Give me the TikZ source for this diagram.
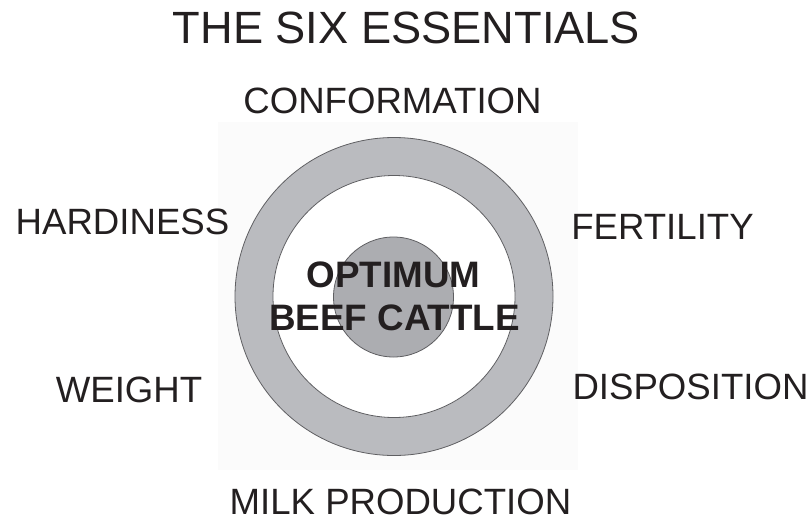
\documentclass[tikz,border=0pt]{standalone}
\usepackage{fontspec}
\setmainfont{Liberation Sans}
\definecolor{ringgray}{RGB}{186,187,191}
\definecolor{diskgray}{RGB}{172,173,177}
\definecolor{edgegray}{RGB}{95,95,98}
\definecolor{bgfaint}{RGB}{251,251,251}
\definecolor{txt}{RGB}{35,31,32}
\tikzset{
  lbl/.style={anchor=base, inner sep=0pt, text=txt, font=\fontsize{36.6}{40}\selectfont},
  ttl/.style={anchor=base, inner sep=0pt, text=txt, font=\fontsize{45.2}{50}\selectfont},
  ctr/.style={anchor=base, inner sep=0pt, text=txt, font=\bfseries\fontsize{36.8}{40}\selectfont},
  ringline/.style={draw=edgegray, line width=0.8pt}
}
\begin{document}
\begin{tikzpicture}[x=1pt,y=-1pt]
\useasboundingbox (0,0) rectangle (810,520);
\fill[white] (0,0) rectangle (810,520);
\fill[bgfaint] (218,122) rectangle (578,470);
\fill[ringgray, ringline] (394,296.5) circle (159);
\fill[white, ringline] (394,296.5) circle (121);
\fill[diskgray, ringline] (393.5,297) circle (60);
\node[ttl] (title) at (406.5,43) {THE SIX ESSENTIALS};
\node[lbl] (conf) at (392.5,113) {CONFORMATION};
\node[lbl] (hard) at (122.5,234) {HARDINESS};
\node[lbl] (fert) at (662.5,239) {FERTILITY};
\node[lbl] (weig) at (129,402) {WEIGHT};
\node[lbl] (disp) at (690.5,399) {DISPOSITION};
\node[lbl] (milk) at (400.5,514) {MILK PRODUCTION};
\node[ctr] (opt) at (393.5,287) {OPTIMUM};
\node[ctr] (beef) at (394.5,330) {BEEF CATTLE};
\end{tikzpicture}
\end{document}
